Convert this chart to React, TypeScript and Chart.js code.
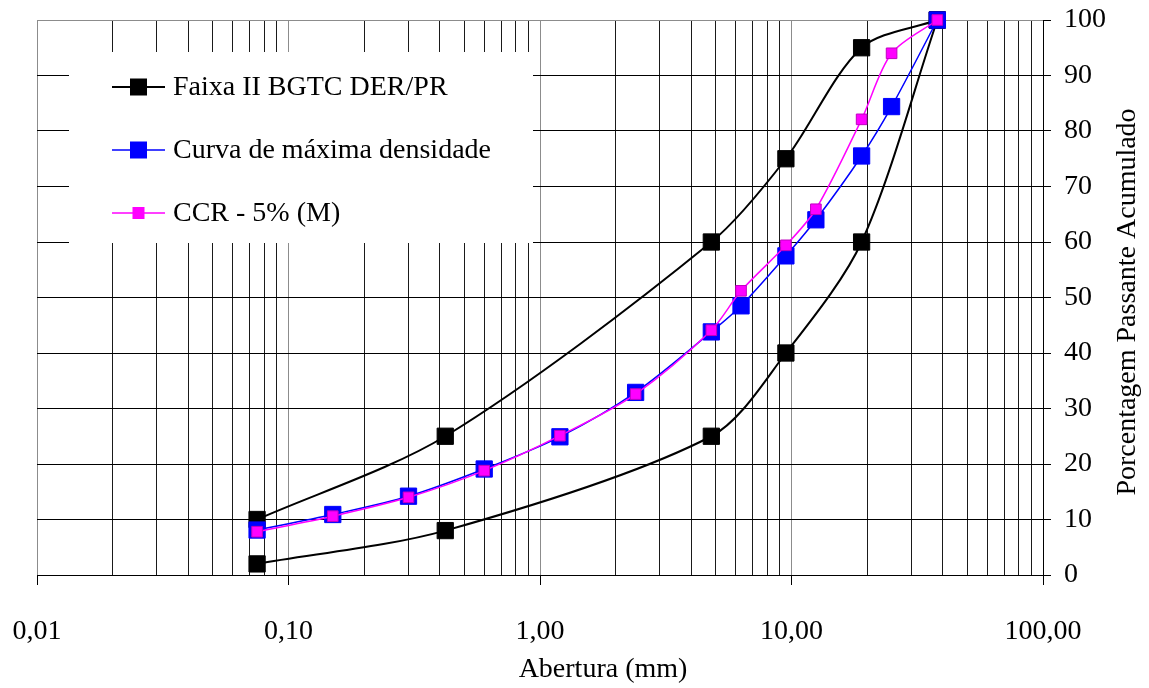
import React, { useEffect, useRef } from 'react';
import { Chart, registerables } from 'chart.js';

Chart.register(...registerables);

// ---- data ----
const faixaSieves = [0.075, 0.42, 4.8, 9.5, 19, 38];
const faixaUpper = [10, 25, 60, 75, 95, 100];
const faixaLower = [2, 8, 25, 40, 60, 100];
const curveSieves = [0.075, 0.15, 0.3, 0.6, 1.2, 2.4, 4.8, 6.3, 9.5, 12.5, 19, 25, 38];
const maxDensity = [8.1, 10.9, 14.2, 19.1, 24.9, 32.9, 43.8, 48.5, 57.5, 64, 75.5, 84.4, 100];
const ccr5 = [7.8, 10.6, 14.0, 18.8, 25.1, 32.6, 44.1, 51.2, 59.4, 65.9, 82.1, 94, 100];
const xDecades = [0.01, 0.1, 1, 10, 100];
const yMin = 0;
const yMax = 100;
const yStep = 10;
const legendLabels = ['Faixa II BGTC DER/PR', 'Curva de máxima densidade', 'CCR - 5% (M)'];
const xTitle = 'Abertura (mm)';
const yTitle = 'Porcentagem Passante Acumulado';

const FONT = "'Liberation Serif', 'Times New Roman', serif";
const BLACK = '#000000';
const BLUE = '#0000FF';
const MAGENTA = '#FF00FF';

const toXY = (xs: number[], ys: number[]) => xs.map((x, i) => ({ x, y: ys[i] }));

const isDecade = (v: number) => {
  const l = Math.log10(v);
  return Math.abs(l - Math.round(l)) < 1e-9;
};

const xTickValues: number[] = (() => {
  const out: number[] = [];
  for (let i = 0; i < xDecades.length - 1; i++) {
    for (let m = 1; m <= 9; m++) out.push(Number((m * xDecades[i]).toPrecision(6)));
  }
  out.push(xDecades[xDecades.length - 1]);
  return out;
})();

const legendItems = [
  { label: legendLabels[0], color: BLACK, size: 17, lw: 2 },
  { label: legendLabels[1], color: BLUE, size: 17, lw: 1.5 },
  { label: legendLabels[2], color: MAGENTA, size: 12, lw: 1.5 },
];

const zeroPad = (scale: any) => {
  scale.paddingLeft = 0;
  scale.paddingRight = 0;
  scale.paddingTop = 0;
  scale.paddingBottom = 0;
};

const overlayPlugin = {
  id: 'overlay',
  beforeDatasetsDraw(chart: any) {
    const ctx = chart.ctx;
    ctx.save();
    // legend box (white, no border)
    const bx = 69, by = 52, bw = 464, bh = 191;
    ctx.fillStyle = '#FFFFFF';
    ctx.fillRect(bx, by, bw, bh);
    const rowY = [87, 150, 213];
    legendItems.forEach((it, i) => {
      const y = rowY[i];
      ctx.strokeStyle = it.color;
      ctx.lineWidth = it.lw;
      ctx.beginPath();
      ctx.moveTo(112, y);
      ctx.lineTo(165, y);
      ctx.stroke();
      ctx.fillStyle = it.color;
      ctx.fillRect(138.5 - it.size / 2, y - it.size / 2, it.size, it.size);
      ctx.fillStyle = '#000000';
      ctx.font = `28px ${FONT}`;
      ctx.textAlign = 'left';
      ctx.textBaseline = 'middle';
      ctx.fillText(it.label, 173, y + 1);
    });
    ctx.restore();
  },
  afterDraw(chart: any) {
    const ctx = chart.ctx;
    ctx.save();
    ctx.fillStyle = '#000000';
    ctx.font = `28px ${FONT}`;
    ctx.textAlign = 'center';
    ctx.textBaseline = 'middle';
    ctx.fillText(xTitle, 603, 670);
    ctx.translate(1128, 302);
    ctx.rotate(-Math.PI / 2);
    ctx.fillText(yTitle, 0, 0);
    ctx.restore();
  },
};

export default function App() {
  const canvasRef = useRef<HTMLCanvasElement | null>(null);

  useEffect(() => {
    document.body.style.margin = '0';
    const canvas = canvasRef.current;
    if (!canvas) return;

    const chart = new Chart(canvas, {
      type: 'line',
      data: {
        datasets: [
          {
            label: legendLabels[2],
            data: toXY(curveSieves, ccr5),
            borderColor: MAGENTA,
            backgroundColor: MAGENTA,
            borderWidth: 1.5,
            pointStyle: 'rect',
            pointRadius: 7.5,
            pointBorderWidth: 1,
            pointBorderColor: '#C000C0',
            pointBackgroundColor: MAGENTA,
            tension: 0.3,
            clip: false,
          },
          {
            label: legendLabels[1],
            data: toXY(curveSieves, maxDensity),
            borderColor: BLUE,
            backgroundColor: BLUE,
            borderWidth: 1.5,
            pointStyle: 'rect',
            pointRadius: 11.5,
            pointBorderWidth: 1,
            pointBorderColor: BLUE,
            pointBackgroundColor: BLUE,
            tension: 0.3,
            clip: false,
          },
          {
            label: legendLabels[0],
            data: toXY(faixaSieves, faixaUpper),
            borderColor: BLACK,
            backgroundColor: BLACK,
            borderWidth: 2,
            pointStyle: 'rect',
            pointRadius: 11.5,
            pointBorderWidth: 1,
            pointBorderColor: BLACK,
            pointBackgroundColor: BLACK,
            tension: 0.3,
            clip: false,
          },
          {
            label: legendLabels[0] + ' (inf.)',
            data: toXY(faixaSieves, faixaLower),
            borderColor: BLACK,
            backgroundColor: BLACK,
            borderWidth: 2,
            pointStyle: 'rect',
            pointRadius: 11.5,
            pointBorderWidth: 1,
            pointBorderColor: BLACK,
            pointBackgroundColor: BLACK,
            tension: 0.3,
            clip: false,
          },
        ],
      },
      options: {
        animation: false,
        responsive: false,
        maintainAspectRatio: false,
        events: [],
        layout: { padding: { left: 37, top: 20, right: 0, bottom: 0 } },
        plugins: {
          legend: { display: false },
          tooltip: { enabled: false },
          title: { display: false },
        },
        scales: {
          x: {
            type: 'logarithmic',
            position: 'bottom',
            min: xDecades[0],
            max: xDecades[xDecades.length - 1],
            afterBuildTicks: (scale: any) => {
              scale.ticks = xTickValues.map((v) => ({ value: v, major: isDecade(v) }));
            },
            afterFit: (scale: any) => {
              scale.height = 113;
              zeroPad(scale);
            },
            ticks: {
              autoSkip: false,
              maxRotation: 0,
              minRotation: 0,
              padding: 30,
              color: '#000000',
              font: { family: FONT, size: 28 },
              callback: (value: any) => {
                const v = Number(value);
                return isDecade(v) ? v.toFixed(2).replace('.', ',') : '';
              },
            },
            grid: {
              display: true,
              drawOnChartArea: true,
              drawTicks: true,
              tickLength: 10,
              lineWidth: 1,
              color: (c: any) => {
                const v = c.tick ? c.tick.value : 0;
                return isDecade(v) ? '#8C8C8C' : '#1A1A1A';
              },
              tickColor: (c: any) => {
                const v = c.tick ? c.tick.value : 0;
                return isDecade(v) ? '#000000' : 'rgba(0,0,0,0)';
              },
            },
            border: { display: true, color: '#000000', width: 1 },
          },
          y: {
            type: 'linear',
            position: 'right',
            min: yMin,
            max: yMax,
            afterFit: (scale: any) => {
              scale.width = 106;
              zeroPad(scale);
            },
            ticks: {
              stepSize: yStep,
              padding: 13,
              color: '#000000',
              font: { family: FONT, size: 28 },
            },
            grid: {
              display: true,
              drawOnChartArea: true,
              drawTicks: true,
              tickLength: 8,
              lineWidth: 1,
              color: (c: any) => (c.tick && c.tick.value === yMax ? '#8C8C8C' : '#000000'),
              tickColor: '#000000',
            },
            border: { display: true, color: '#000000', width: 1 },
          },
        },
      },
      plugins: [overlayPlugin],
    } as any);

    return () => {
      chart.destroy();
    };
  }, []);

  return (
    <div style={{ width: 1149, height: 688, background: '#FFFFFF' }}>
      <canvas ref={canvasRef} width={1149} height={688} style={{ display: 'block' }} />
    </div>
  );
}
